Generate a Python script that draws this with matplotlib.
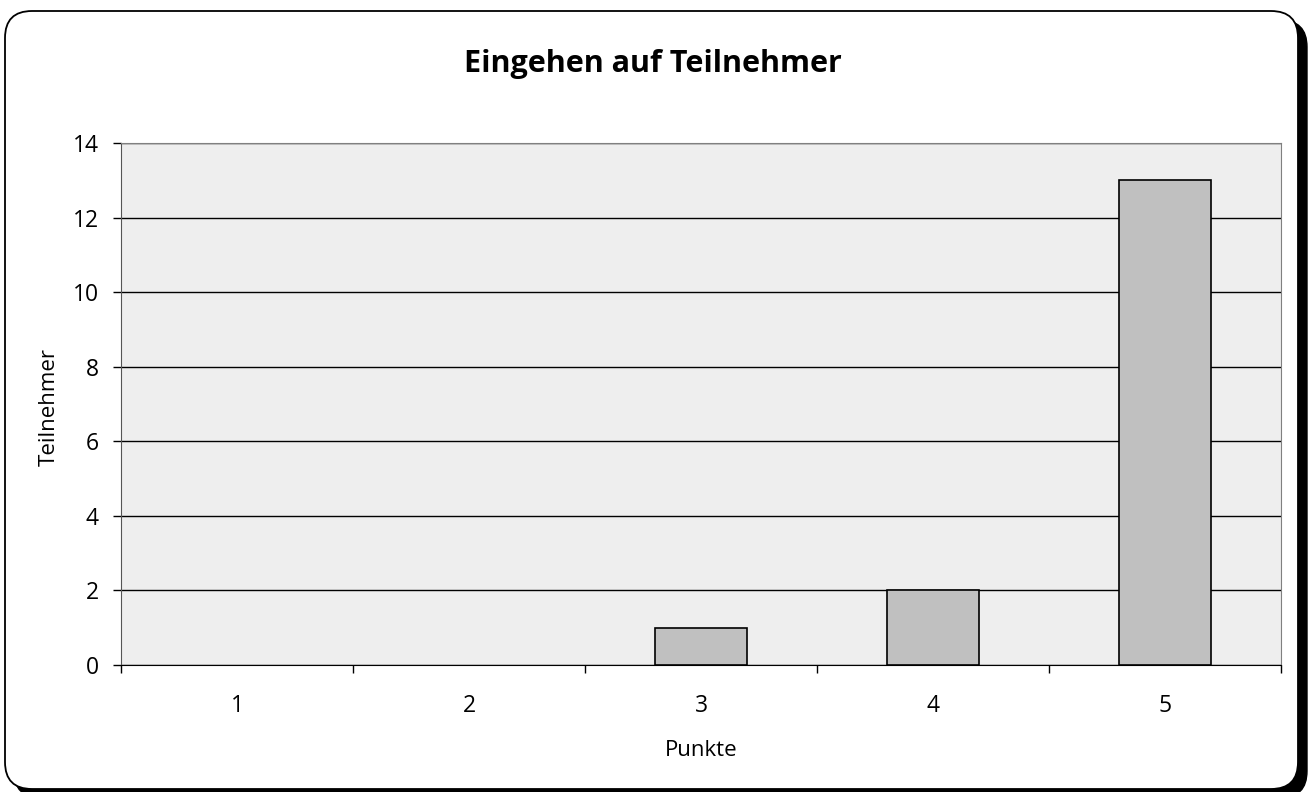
import numpy as np
import matplotlib
matplotlib.use("Agg")
import matplotlib.pyplot as plt
from matplotlib.patches import FancyBboxPatch

punkte = ["1", "2", "3", "4", "5"]
teilnehmer = [0, 0, 1, 2, 13]

plt.rcParams["font.family"] = ["Open Sans", "DejaVu Sans"]

W, H = 1309, 792
fig = plt.figure(figsize=(W / 100, H / 100), dpi=100)

# background layer in pixel coords for the rounded frame with shadow
bg = fig.add_axes([0, 0, 1, 1], zorder=-1)
bg.set_xlim(0, W); bg.set_ylim(H, 0); bg.axis("off")
bg.add_patch(FancyBboxPatch((14, 20), 1293, 778, boxstyle="round,pad=0,rounding_size=27",
                            facecolor="black", edgecolor="black"))
bg.add_patch(FancyBboxPatch((5, 11), 1293, 778, boxstyle="round,pad=0,rounding_size=27",
                            facecolor="white", edgecolor="black", lw=1.3))

ax = fig.add_axes([121 / W, 1 - 665 / H, 1160 / W, 522 / H], zorder=2)
ax.set_facecolor("#eeeeee")
xs = np.arange(len(punkte))
ax.bar(xs, teilnehmer, width=0.4, color="#c0c0c0", edgecolor="black",
       lw=[1.2 if v else 0 for v in teilnehmer], zorder=3)
ax.set_xlim(-0.5, len(punkte) - 0.5)
ax.set_ylim(0, 14)
ax.set_yticks(np.arange(0, 15, 2))
ax.yaxis.grid(True, color="black", lw=1)
ax.set_axisbelow(True)

ax.set_xticks(xs)
ax.set_xticklabels(punkte)
ax.tick_params(axis="x", length=0, pad=21, labelsize=16.5)
ax.set_xticks(np.arange(-0.5, len(punkte), 1), minor=True)
ax.tick_params(axis="x", which="minor", length=6, width=1, direction="out")
ax.tick_params(axis="y", length=6, width=1, direction="out", labelsize=16.5, pad=10)

for sp in ["top", "right"]:
    ax.spines[sp].set_color("#808080")
ax.spines["left"].set_color("#555555")
ax.spines["bottom"].set_color("black")

ax.set_xlabel("Punkte", fontsize=16, va="center")
ax.xaxis.set_label_coords(0.5, (665 - 750) / 522)
ax.set_ylabel("Teilnehmer", fontsize=16, va="center")
ax.yaxis.set_label_coords((49 - 121) / 1160, (665 - 407) / 522)
fig.text(653 / W, 1 - 72 / H, "Eingehen auf Teilnehmer", ha="center", va="baseline",
         fontsize=22, fontweight="bold")

fig.savefig("out.png", dpi=100, facecolor="white")
